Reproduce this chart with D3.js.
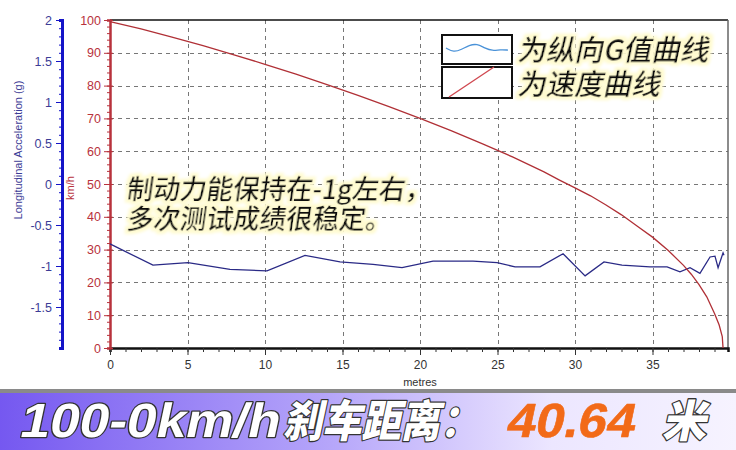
<!DOCTYPE html>
<html><head><meta charset="utf-8">
<script src="https://cdn.jsdelivr.net/npm/d3@7"></script>
<style>
body{margin:0;background:#fff;}
svg{display:block;}
</style></head>
<body>
<svg id="c" width="736" height="450"></svg>
<script>
// ---- data ----
const gDist = [0,2.77,5.03,7.74,10.13,12.58,14.84,16.97,18.84,20.84,23.42,24.97,26.13,27.74,29.23,30.65,31.87,33.03,34.84,35.94,36.77,37.42,38.06,38.71,39.03,39.23,39.55,39.61];
const gVal  = [-0.73,-0.99,-0.96,-1.04,-1.06,-0.87,-0.95,-0.98,-1.02,-0.94,-0.94,-0.96,-1.01,-1.01,-0.85,-1.12,-0.95,-0.99,-1.01,-1.01,-1.07,-1.02,-1.09,-0.89,-0.88,-1.02,-0.84,-0.87];
const vDist = [0,2,4,6,8,10,12,14,16,18,20,22,24,26,28,29,30,31,32,33,34,35,36,37,37.5,38,38.5,39,39.3,39.5,39.55];
const vVal  = [99.5,97.3,94.8,92.2,89.4,86.5,83.5,80.3,77.0,73.6,70.0,66.3,62.3,58.2,53.7,51.2,48.8,46.4,43.6,40.6,37.2,33.8,29.8,25.2,22.5,19.3,15.6,10.5,7.0,3.5,0];
const xTicks = [0,5,10,15,20,25,30,35];
const vTicks = [0,10,20,30,40,50,60,70,80,90,100];
const gTicks = [-1.5,-1,-0.5,0,0.5,1,1.5,2];
const gTickLabels = ["-1.5","-1","-0.5","0","0.5","1","1.5","2"];
const legendLabels = ["为纵向G值曲线","为速度曲线"];
const legendWave = [0.45,0.6,0.5,0.35,0.3,0.45,0.55,0.5,0.52];
const noteLines = ["制动力能保持在-1g左右，","多次测试成绩很稳定。"];
const bannerParts = ["100-0km/h","刹车距离：","40.64","米"];

// ---- layout ----
const svg = d3.select("#c");
const L = 110, R = 728, T = 20, B = 348;
const x = d3.scaleLinear().domain([0, 39.87]).range([L, R]);
const yv = d3.scaleLinear().domain([0, 100]).range([B, T]);
const yg = d3.scaleLinear().domain([-2, 2]).range([B, T]);
const red = "#b8323c", blue = "#1414c8", navy = "#3c3c96";
const latin = "'Liberation Sans', Arial, sans-serif";
const cjk = "'Noto Sans CJK SC', sans-serif";

// grid
const grid = svg.append("g").attr("stroke","#777").attr("stroke-dasharray","4,4").attr("stroke-width",1);
grid.selectAll(".h").data(vTicks.filter(d=>d>0&&d<100)).join("line")
  .attr("x1",L).attr("x2",R).attr("y1",d=>Math.round(yv(d))+0.5).attr("y2",d=>Math.round(yv(d))+0.5);
grid.selectAll(".v").data(xTicks.filter(d=>d>0)).join("line")
  .attr("y1",T).attr("y2",B).attr("x1",d=>Math.round(x(d))+0.5).attr("x2",d=>Math.round(x(d))+0.5);

// frame
svg.append("line").attr("x1",L).attr("x2",R).attr("y1",T).attr("y2",T).attr("stroke","#111").attr("stroke-width",1.5);
svg.append("line").attr("x1",R).attr("x2",R).attr("y1",T).attr("y2",B).attr("stroke","#666").attr("stroke-width",1.5);

// x axis
const xa = svg.append("g").attr("transform",`translate(0,${B})`)
  .call(d3.axisBottom(x).tickValues(d3.range(0,40,1)).tickSize(4).tickFormat(""));
xa.select(".domain").attr("stroke","#111").attr("stroke-width",2.5);
xa.selectAll(".tick line").attr("stroke","#333");
const xa2 = svg.append("g").attr("transform",`translate(0,${B})`)
  .call(d3.axisBottom(x).tickValues(xTicks).tickSize(7).tickFormat(d3.format("d")));
xa2.select(".domain").remove();
xa2.selectAll(".tick line").attr("stroke","#333");
xa2.selectAll("text").attr("font-family",latin).attr("font-size",12).attr("fill","#333").attr("dy","0.9em");
svg.append("text").attr("x",x(20)).attr("y",386).attr("text-anchor","middle")
  .attr("font-family",latin).attr("font-size",11).attr("fill","#333").text("metres");

// speed axis (red)
const va = svg.append("g").attr("transform",`translate(${L},0)`)
  .call(d3.axisLeft(yv).tickValues(d3.range(0,101,2)).tickSize(3).tickFormat(""));
va.select(".domain").attr("stroke",red).attr("stroke-width",2.5);
va.selectAll(".tick line").attr("stroke",red);
const va2 = svg.append("g").attr("transform",`translate(${L},0)`)
  .call(d3.axisLeft(yv).tickValues(vTicks).tickSize(6).tickPadding(3).tickFormat(d3.format("d")));
va2.select(".domain").remove();
va2.selectAll(".tick line").attr("stroke",red).attr("x2",-6).attr("x1",3);
va2.selectAll("text").attr("font-family",latin).attr("font-size",12.5).attr("fill",red);
svg.append("text").attr("transform","translate(74,188) rotate(-90)").attr("text-anchor","middle")
  .attr("font-family",latin).attr("font-size",11).attr("fill",red).text("km/h");

// g axis (blue)
const GX = 62;
const ga = svg.append("g").attr("transform",`translate(${GX},0)`)
  .call(d3.axisLeft(yg).tickValues(d3.range(-20,21,1).map(d=>d/10)).tickSize(3).tickFormat(""));
ga.select(".domain").attr("stroke",blue).attr("stroke-width",3);
ga.selectAll(".tick line").attr("stroke",blue);
const ga2 = svg.append("g").attr("transform",`translate(${GX},0)`)
  .call(d3.axisLeft(yg).tickValues(gTicks).tickSize(6).tickPadding(4).tickFormat(d=>gTickLabels[gTicks.indexOf(d)]));
ga2.select(".domain").remove();
ga2.selectAll(".tick line").attr("stroke",blue);
ga2.selectAll("text").attr("font-family",latin).attr("font-size",12.5).attr("fill",navy);
svg.append("text").attr("transform","translate(22,150) rotate(-90)").attr("text-anchor","middle")
  .attr("font-family",latin).attr("font-size",11).attr("fill",navy).text("Longitudinal Acceleration (g)");

// series
const gLine = d3.line().x((d,i)=>x(gDist[i])).y(d=>yg(d));
svg.append("path").datum(gVal).attr("d",gLine).attr("fill","none").attr("stroke","#2a2a86").attr("stroke-width",1.3);
const vLine = d3.line().x((d,i)=>x(vDist[i])).y(d=>yv(d));
svg.append("path").datum(vVal).attr("d",vLine).attr("fill","none").attr("stroke","#b03036").attr("stroke-width",1.3);

// glow filter
const defs = svg.append("defs");
const f = defs.append("filter").attr("id","glow").attr("x","-10%").attr("y","-20%").attr("width","120%").attr("height","140%");
f.append("feMorphology").attr("in","SourceAlpha").attr("operator","dilate").attr("radius",2.5).attr("result","d");
f.append("feGaussianBlur").attr("in","d").attr("stdDeviation",1.5).attr("result","b");
f.append("feFlood").attr("flood-color","#fffbd0").attr("result","c");
f.append("feComposite").attr("in","c").attr("in2","b").attr("operator","in").attr("result","g");
const fm = f.append("feMerge"); fm.append("feMergeNode").attr("in","g"); fm.append("feMergeNode").attr("in","SourceGraphic");

// legend
const lg = svg.append("g");
[[442,35,70,29],[442,67,70,31]].forEach((b,i)=>{
  lg.append("rect").attr("x",b[0]).attr("y",b[1]).attr("width",b[2]).attr("height",b[3])
    .attr("fill","#fff").attr("stroke","#111").attr("stroke-width",2);
});
const lw = d3.scaleLinear().domain([0,legendWave.length-1]).range([446,508]);
lg.append("path").datum(legendWave).attr("fill","none").attr("stroke","#4a92d8").attr("stroke-width",1.3)
  .attr("d",d3.line().curve(d3.curveBasis).x((d,i)=>lw(i)).y(d=>35+29*d));
lg.append("line").attr("x1",449).attr("y1",97).attr("x2",494).attr("y2",67).attr("stroke","#d04850").attr("stroke-width",1.3);
lg.selectAll("text.l").data(legendLabels).join("text")
  .attr("x",517).attr("y",(d,i)=>61+i*34).attr("font-family",cjk).attr("font-size",28.5).attr("font-weight",500)
  .attr("transform",(d,i)=>`translate(517,${61+i*34}) skewX(-12) translate(-517,${-(61+i*34)})`)
  .attr("fill","#111").attr("filter","url(#glow)").text(d=>d);

// annotation
svg.selectAll("text.n").data(noteLines).join("text")
  .attr("x",126).attr("y",(d,i)=>199+i*30).attr("font-family",cjk).attr("font-size",26.5).attr("font-weight",500)
  .attr("transform",(d,i)=>`translate(126,${199+i*30}) skewX(-8) translate(-126,${-(199+i*30)})`)
  .attr("fill","#111").attr("filter","url(#glow)").text(d=>d);

// banner
const grad = defs.append("linearGradient").attr("id","bg").attr("x1","0").attr("x2","1").attr("y1","0").attr("y2","0");
grad.append("stop").attr("offset","0%").attr("stop-color","#7558f0");
grad.append("stop").attr("offset","45%").attr("stop-color","#b6a6fa");
grad.append("stop").attr("offset","75%").attr("stop-color","#ece6ff");
grad.append("stop").attr("offset","100%").attr("stop-color","#f6f3ff");
svg.append("rect").attr("x",0).attr("y",389).attr("width",736).attr("height",4).attr("fill","#8a8a8a");
svg.append("rect").attr("x",0).attr("y",393).attr("width",736).attr("height",57).attr("fill","url(#bg)");
const BY = 437;
const bt = svg.append("text").attr("y",BY).attr("font-weight",900)
  .attr("font-size",48)
  .attr("transform",`translate(0,${BY}) skewX(-12) translate(0,${-BY})`)
  .attr("stroke","#333").attr("stroke-width",2.5).attr("paint-order","stroke").attr("stroke-linejoin","round");
bt.append("tspan").attr("x",18).attr("font-family",latin).attr("font-weight",700).attr("fill","#fff").attr("textLength",260).attr("lengthAdjust","spacingAndGlyphs").text(bannerParts[0]);
bt.append("tspan").attr("x",283).attr("font-family",cjk).attr("font-size",44).attr("fill","#fff").attr("textLength",196).attr("lengthAdjust","spacingAndGlyphs").text(bannerParts[1]);
bt.append("tspan").attr("x",505).attr("font-family",latin).attr("font-weight",700).attr("fill","#f26a18").attr("stroke","#f26a18").attr("stroke-width",0.6).attr("textLength",128).attr("lengthAdjust","spacingAndGlyphs").text(bannerParts[2]);
bt.append("tspan").attr("x",662).attr("font-family",cjk).attr("font-size",44).attr("fill","#fff").text(bannerParts[3]);
</script>
</body></html>
